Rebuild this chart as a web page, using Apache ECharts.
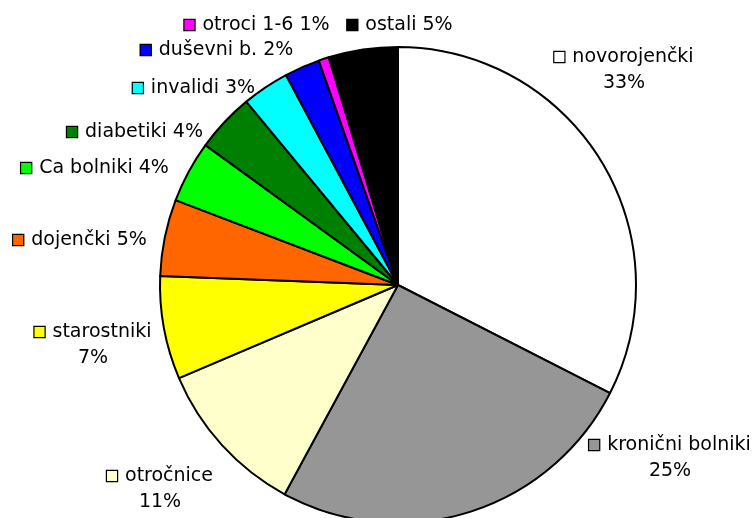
<!DOCTYPE html>
<html>
<head>
<meta charset="utf-8">
<script src="https://cdn.jsdelivr.net/npm/echarts@6/dist/echarts.min.js"></script>
<style>
  html, body { margin: 0; padding: 0; background: #ffffff; }
  #chart { width: 755px; height: 518px; }
</style>
</head>
<body>
<div id="chart"></div>
<script>
// Share of each group (percent), clockwise from 12 o'clock
const categories = [
  'novorojenčki', 'kronični bolniki', 'otročnice', 'starostniki', 'dojenčki',
  'Ca bolniki', 'diabetiki', 'invalidi', 'duševni b.', 'otroci 1-6', 'ostali'
];
const shares = [32.5, 25.4, 10.7, 7.0, 5.2, 4.2, 4.0, 3.2, 2.4, 0.7, 4.7];
const sliceColors = [
  '#ffffff', '#969696', '#ffffcc', '#ffff00', '#ff6600',
  '#00ff00', '#008000', '#00ffff', '#0000ff', '#ff00ff', '#000000'
];
// Groups whose percentage goes on a second line
const twoLine = [true, true, true, true, false, false, false, false, false, false, false];

// Label block centres around the pie
const labelSpots = [
  [624, 70], [670, 458], [160, 489], [93, 345], [80, 240],
  [95, 168], [135, 132], [194, 88], [217, 50], [257, 25], [400, 25]
];

const chart = echarts.init(document.getElementById('chart'));

const rich = {};
sliceColors.forEach(function (c, i) {
  rich['k' + i] = {
    width: 10, height: 10,
    backgroundColor: c,
    borderColor: '#000000', borderWidth: 1.2
  };
});
rich.g = { width: 8, height: 10 };
rich.t = { fontFamily: 'DejaVu Sans', fontSize: 19, color: '#000000', lineHeight: 26 };

chart.setOption({
  animation: false,
  backgroundColor: '#ffffff',
  series: [{
    type: 'pie',
    center: [398, 285],
    radius: 238,
    startAngle: 90,
    clockwise: true,
    avoidLabelOverlap: false,
    data: categories.map(function (name, i) {
      return { name: name, value: shares[i], itemStyle: { color: sliceColors[i] } };
    }),
    itemStyle: { borderColor: '#000000', borderWidth: 2 },
    emphasis: { disabled: true },
    labelLine: { show: false },
    label: {
      show: true,
      position: 'outside',
      align: 'center',
      rich: rich,
      formatter: function (p) {
        const pct = Math.round(p.percent) + '%';
        const head = '{k' + p.dataIndex + '|}{g|}{t|' + p.name;
        return twoLine[p.dataIndex]
          ? head + '}\n{t|' + pct + '}'
          : head + ' ' + pct + '}';
      }
    },
    labelLayout: function (p) {
      const s = labelSpots[p.dataIndex];
      return { x: s[0], y: s[1], align: 'center', verticalAlign: 'middle' };
    }
  }]
});
</script>
</body>
</html>
